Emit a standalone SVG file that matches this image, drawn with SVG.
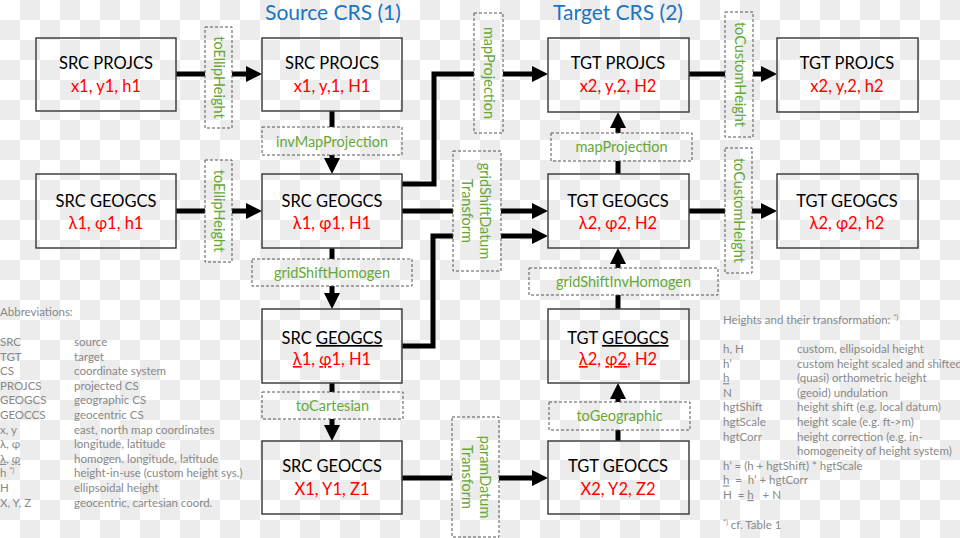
<svg xmlns="http://www.w3.org/2000/svg" width="960" height="538" viewBox="0 0 960 538">
<defs>
<pattern id="chk" width="40" height="40" patternUnits="userSpaceOnUse">
<rect width="40" height="40" fill="#ffffff"/>
<rect x="20" y="0" width="20" height="20" fill="#ececec"/>
<rect x="0" y="20" width="20" height="20" fill="#ececec"/>
</pattern>
<marker id="ah" viewBox="0 0 16 16" refX="0" refY="8" markerWidth="16" markerHeight="16" markerUnits="userSpaceOnUse" orient="auto">
<path d="M0,0 L16,8 L0,16 z" fill="#000"/>
</marker>
<style>
.box{fill:none;stroke:#404040;stroke-width:1.5}
.lbl{fill:none;stroke:#555;stroke-width:1;stroke-dasharray:3,2}
.t{font-family:Lato,"Open Sans","DejaVu Sans",sans-serif;font-size:16.5px;fill:#000;text-anchor:middle}
.r{font-family:Lato,"Open Sans","DejaVu Sans",sans-serif;font-size:16.5px;fill:#ff0000;text-anchor:middle}
.g{font-family:Lato,"Open Sans","DejaVu Sans",sans-serif;font-size:14.5px;fill:#66a838;text-anchor:middle}
.h{font-family:Lato,"Open Sans","DejaVu Sans",sans-serif;font-size:21px;fill:#1a74c4;text-anchor:middle}
.lg{font-family:Lato,"Open Sans","DejaVu Sans",sans-serif;font-size:11.5px;fill:#888888}
.u{text-decoration:underline}
.c{fill:none;stroke:#000;stroke-width:5}
.ca{fill:none;stroke:#000;stroke-width:5;marker-end:url(#ah)}
</style>
</defs>
<rect width="960" height="538" fill="url(#chk)"/>

<text class="h" x="333" y="20">Source CRS (1)</text>
<text class="h" x="618" y="20">Target CRS (2)</text>

<g id="connectors">
<line class="c" x1="176" y1="74" x2="205" y2="74"/>
<line class="ca" x1="232" y1="74" x2="246" y2="74"/>
<line class="c" x1="176" y1="211" x2="205" y2="211"/>
<line class="ca" x1="232" y1="211" x2="246" y2="211"/>
<line class="c" x1="332" y1="111" x2="332" y2="127"/>
<line class="ca" x1="332" y1="155" x2="332" y2="158"/>
<line class="c" x1="332" y1="248" x2="332" y2="259"/>
<line class="ca" x1="332" y1="286" x2="332" y2="293"/>
<line class="c" x1="332" y1="383" x2="332" y2="392"/>
<line class="ca" x1="332" y1="419" x2="332" y2="425"/>
<polyline class="c" points="402,184 434,184 434,74 474,74"/>
<line class="ca" x1="503" y1="74" x2="532" y2="74"/>
<line class="c" x1="402" y1="211" x2="453" y2="211"/>
<line class="ca" x1="501" y1="211" x2="532" y2="211"/>
<polyline class="c" points="402,346 433,346 433,236 453,236"/>
<line class="ca" x1="501" y1="236" x2="532" y2="236"/>
<line class="c" x1="402" y1="478" x2="452" y2="478"/>
<line class="ca" x1="499" y1="478" x2="532" y2="478"/>
<line class="c" x1="618" y1="441" x2="618" y2="430"/>
<line class="ca" x1="618" y1="402" x2="618" y2="399"/>
<line class="c" x1="618" y1="309" x2="618" y2="295"/>
<line class="ca" x1="618" y1="268" x2="618" y2="264"/>
<line class="c" x1="618" y1="174" x2="618" y2="161"/>
<line class="ca" x1="618" y1="133" x2="618" y2="128"/>
<line class="c" x1="689" y1="74" x2="725" y2="74"/>
<line class="ca" x1="753" y1="74" x2="761" y2="74"/>
<line class="c" x1="689" y1="211" x2="725" y2="211"/>
<line class="ca" x1="752" y1="211" x2="761" y2="211"/>
</g>

<g id="src-projcs-in">
<rect class="box" x="36" y="38" width="140" height="73"/>
<text class="t" x="106" y="69">SRC PROJCS</text>
<text class="r" x="106" y="92">x1, y1, h1</text>
</g>
<g id="src-geogcs-in">
<rect class="box" x="36" y="174" width="140" height="74"/>
<text class="t" x="106" y="207">SRC GEOGCS</text>
<text class="r" x="106" y="229">λ1, φ1, h1</text>
</g>
<g id="src-projcs">
<rect class="box" x="262" y="38" width="140" height="73"/>
<text class="t" x="332" y="69">SRC PROJCS</text>
<text class="r" x="332" y="92">x1, y,1, H1</text>
</g>
<g id="src-geogcs">
<rect class="box" x="262" y="174" width="140" height="74"/>
<text class="t" x="332" y="207">SRC GEOGCS</text>
<text class="r" x="332" y="229">λ1, φ1, H1</text>
</g>
<g id="src-geogcs-homogen">
<rect class="box" x="262" y="309" width="140" height="74"/>
<text class="t" x="332" y="344">SRC <tspan class="u">GEOGCS</tspan></text>
<text class="r" x="332" y="365"><tspan class="u">λ</tspan>1, <tspan class="u">φ</tspan>1, H1</text>
</g>
<g id="src-geoccs">
<rect class="box" x="262" y="441" width="140" height="73"/>
<text class="t" x="332" y="472">SRC GEOCCS</text>
<text class="r" x="332" y="495">X1, Y1, Z1</text>
</g>
<g id="tgt-projcs">
<rect class="box" x="548" y="38" width="141" height="74"/>
<text class="t" x="618" y="69">TGT PROJCS</text>
<text class="r" x="618" y="92">x2, y,2, H2</text>
</g>
<g id="tgt-geogcs">
<rect class="box" x="548" y="174" width="141" height="74"/>
<text class="t" x="618" y="207">TGT GEOGCS</text>
<text class="r" x="618" y="229">λ2, φ2, H2</text>
</g>
<g id="tgt-geogcs-homogen">
<rect class="box" x="548" y="309" width="141" height="74"/>
<text class="t" x="618" y="344">TGT <tspan class="u">GEOGCS</tspan></text>
<text class="r" x="618" y="365"><tspan class="u">λ</tspan>2, <tspan class="u">φ2</tspan>, H2</text>
</g>
<g id="tgt-geoccs">
<rect class="box" x="548" y="441" width="141" height="73"/>
<text class="t" x="618" y="472">TGT GEOCCS</text>
<text class="r" x="618" y="495">X2, Y2, Z2</text>
</g>
<g id="tgt-projcs-out">
<rect class="box" x="777" y="38" width="141" height="74"/>
<text class="t" x="847" y="69">TGT PROJCS</text>
<text class="r" x="847" y="92">x2, y,2, h2</text>
</g>
<g id="tgt-geogcs-out">
<rect class="box" x="777" y="174" width="141" height="74"/>
<text class="t" x="847" y="207">TGT GEOGCS</text>
<text class="r" x="847" y="229">λ2, φ2, h2</text>
</g>

<g id="lbl-toEllipHeight-1">
<rect class="lbl" x="205" y="27" width="27" height="101"/>
<text class="g" transform="translate(213.5,77.5) rotate(90)">toEllipHeight</text>
</g>
<g id="lbl-toEllipHeight-2">
<rect class="lbl" x="205" y="160" width="27" height="102"/>
<text class="g" transform="translate(213.5,211) rotate(90)">toEllipHeight</text>
</g>
<g id="lbl-invMapProjection">
<rect class="lbl" x="262" y="127" width="140" height="28"/>
<text class="g" x="332" y="147">invMapProjection</text>
</g>
<g id="lbl-gridShiftHomogen">
<rect class="lbl" x="252" y="259" width="160" height="27"/>
<text class="g" x="332" y="278">gridShiftHomogen</text>
</g>
<g id="lbl-toCartesian">
<rect class="lbl" x="262" y="392" width="141" height="27"/>
<text class="g" x="332.5" y="411">toCartesian</text>
</g>
<g id="lbl-mapProjection-v">
<rect class="lbl" x="474" y="13" width="29" height="120"/>
<text class="g" transform="translate(484,73) rotate(90)">mapProjection</text>
</g>
<g id="lbl-gridShiftDatumTransform">
<rect class="lbl" x="453" y="151" width="48" height="120"/>
<text class="g" transform="translate(480,211) rotate(90)">gridShiftDatum</text>
<text class="g" transform="translate(462,211) rotate(90)">Transform</text>
</g>
<g id="lbl-paramDatumTransform">
<rect class="lbl" x="452" y="417" width="47" height="120"/>
<text class="g" transform="translate(480,477) rotate(90)">paramDatum</text>
<text class="g" transform="translate(461.5,477) rotate(90)">Transform</text>
</g>
<g id="lbl-mapProjection-h">
<rect class="lbl" x="551" y="133" width="141" height="28"/>
<text class="g" x="621.5" y="152">mapProjection</text>
</g>
<g id="lbl-gridShiftInvHomogen">
<rect class="lbl" x="529" y="268" width="189" height="27"/>
<text class="g" x="623.5" y="287">gridShiftInvHomogen</text>
</g>
<g id="lbl-toGeographic">
<rect class="lbl" x="549" y="402" width="141" height="28"/>
<text class="g" x="619.5" y="421">toGeographic</text>
</g>
<g id="lbl-toCustomHeight-1">
<rect class="lbl" x="725" y="12" width="28" height="125"/>
<text class="g" transform="translate(734.5,74.5) rotate(90)">toCustomHeight</text>
</g>
<g id="lbl-toCustomHeight-2">
<rect class="lbl" x="725" y="148" width="27" height="125"/>
<text class="g" transform="translate(734,210.5) rotate(90)">toCustomHeight</text>
</g>

<g id="legend-abbreviations" class="lg">
<text x="0" y="316">Abbreviations:</text>
<text x="0" y="346">SRC</text><text x="74" y="346">source</text>
<text x="0" y="360.6">TGT</text><text x="74" y="360.6">target</text>
<text x="0" y="375.2">CS</text><text x="74" y="375.2">coordinate system</text>
<text x="0" y="389.8">PROJCS</text><text x="74" y="389.8">projected CS</text>
<text x="0" y="404.4">GEOGCS</text><text x="74" y="404.4">geographic CS</text>
<text x="0" y="419">GEOCCS</text><text x="74" y="419">geocentric CS</text>
<text x="0" y="433.6">x, y</text><text x="74" y="433.6">east, north map coordinates</text>
<text x="0" y="448.2">λ, φ</text><text x="74" y="448.2">longitude, latitude</text>
<text x="0" y="462.8"><tspan class="u">λ</tspan>, <tspan class="u">φ</tspan></text><text x="74" y="462.8">homogen. longitude, latitude</text>
<text x="0" y="477.4">h <tspan font-size="7" dy="-4">*)</tspan></text><text x="74" y="477.4">height-in-use (custom height sys.)</text>
<text x="0" y="492">H</text><text x="74" y="492">ellipsoidal height</text>
<text x="0" y="506.6">X, Y, Z</text><text x="74" y="506.6">geocentric, cartesian coord.</text>
</g>

<g id="legend-heights" class="lg">
<text x="723" y="324">Heights and their transformation: <tspan font-size="7" dy="-4">*)</tspan></text>
<text x="723" y="353">h, H</text><text x="797" y="353">custom, ellipsoidal height</text>
<text x="723" y="367.6">h’</text><text x="797" y="367.6">custom height scaled and shifted</text>
<text x="723" y="382.2"><tspan class="u">h</tspan></text><text x="797" y="382.2">(quasi) orthometric height</text>
<text x="723" y="396.8">N</text><text x="797" y="396.8">(geoid) undulation</text>
<text x="723" y="411.4">hgtShift</text><text x="797" y="411.4">height shift (e.g. local datum)</text>
<text x="723" y="426">hgtScale</text><text x="797" y="426">height scale (e.g. ft-&gt;m)</text>
<text x="723" y="440.6">hgtCorr</text><text x="797" y="440.6">height correction (e.g. in-</text>
<text x="797" y="455.2">homogeneity of height system)</text>
<text x="723" y="469.8">h’ = (h  + hgtShift) * hgtScale</text>
<text x="723" y="484.4" xml:space="preserve"><tspan class="u">h</tspan>  =  h’ + hgtCorr</text>
<text x="723" y="499" xml:space="preserve">H  = <tspan class="u">h</tspan>   + N</text>
<text x="723" y="529"><tspan font-size="7" dy="-4">*)</tspan><tspan dy="4"> cf. Table 1</tspan></text>
</g>
</svg>
